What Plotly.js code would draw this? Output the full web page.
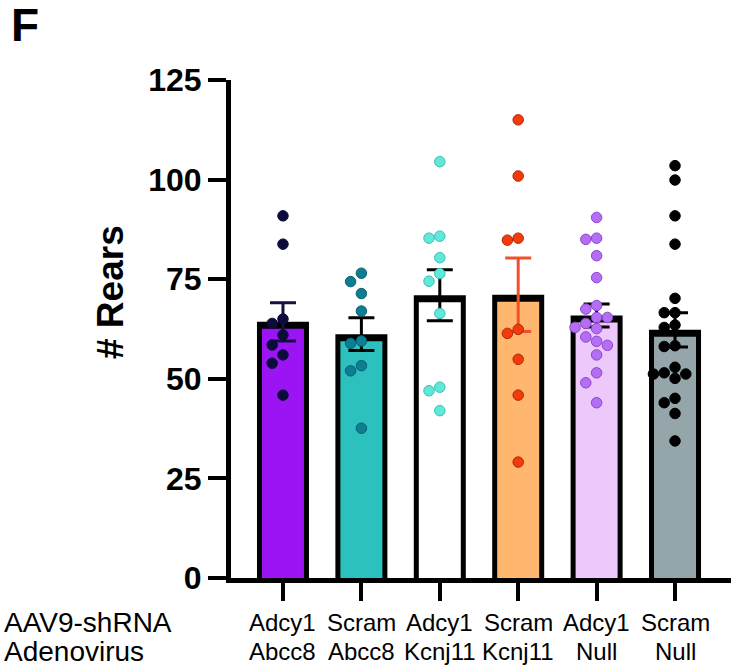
<!DOCTYPE html>
<html>
<head>
<meta charset="utf-8">
<script src="https://cdn.plot.ly/plotly-3.0.1.min.js"></script>
<style>html,body{margin:0;padding:0;background:#fff;}#chart{width:731px;height:666px;}</style>
</head>
<body>
<div id="chart"></div>
<script>
// ---- data ----
const categories = ['Adcy1<br>Abcc8', 'Scram<br>Abcc8', 'Adcy1<br>Kcnj11', 'Scram<br>Kcnj11', 'Adcy1<br>Null', 'Scram<br>Null'];
const adcy1Abcc8 = [90.9, 83.8, 65.0, 63.9, 61.0, 58.5, 56.0, 53.9, 45.9];
const scramAbcc8 = [76.5, 74.4, 71.4, 67.0, 59.5, 58.9, 53.3, 52.0, 37.6];
const adcy1Kcnj11 = [104.5, 85.8, 85.3, 80.4, 76.4, 74.5, 66.4, 47.9, 47.0, 42.0];
const scramKcnj11 = [115.0, 100.9, 85.3, 84.8, 62.4, 61.4, 54.9, 45.9, 29.1];
const adcy1Null = [90.5, 85.3, 85.0, 80.9, 75.4, 68.4, 67.5, 65.4, 65.4, 63.9, 62.9, 62.6, 60.5, 59.4, 58.4, 56.0, 51.5, 49.0, 44.0];
const scramNull = [103.5, 99.9, 90.9, 83.8, 70.2, 66.6, 66.6, 63.5, 62.9, 58.3, 58.1, 52.9, 51.5, 51.2, 51.2, 50.1, 45.1, 44.0, 41.3, 34.4];
const means = [64.3, 61.2, 71.0, 71.1, 65.9, 62.3];
const sems = [4.8, 4.1, 6.4, 9.2, 2.9, 4.3];
const yTicks = [0, 25, 50, 75, 100, 125];
const rowLabels = ['AAV9-shRNA', 'Adenovirus'];

// ---- styles ----
const groups = [adcy1Abcc8, scramAbcc8, adcy1Kcnj11, scramKcnj11, adcy1Null, scramNull];
const barFill = ['#9b14f4', '#2cc0bf', '#ffffff', '#ffb66f', '#ecc8fb', '#95a6ab'];
const dotFill = ['#0c0b3c', '#0e7e92', '#5fe9db', '#f23a0c', '#b46ef2', '#000000'];
const dotLine = ['#0c0b3c', '#0a5f70', '#3bbfb2', '#b52600', '#8a45d0', '#000000'];
const errColor = ['#16113f', '#000000', '#000000', '#f2502a', '#000000', '#000000'];

const W = 731, H = 666;
const M = {l: 231, r: 0, t: 80, b: 88};
const xRange = [-0.663, 5.714], yRange = [0, 125];
const pxPerX = (W - M.l - M.r) / (xRange[1] - xRange[0]);
const pxPerY = (H - M.t - M.b) / (yRange[1] - yRange[0]);
const barOuterPx = 52, sideBorderPx = 5, topBorderPx = 7;

// simple beeswarm placement (pixel space) -> data-unit offsets
function swarm(vals, step, diam) {
  const order = vals.map((v, i) => i).sort((a, b) => vals[b] - vals[a]);
  const placed = [];
  const off = new Array(vals.length).fill(0);
  for (const i of order) {
    const y = vals[i] * pxPerY;
    for (let k = 0; k < 40; k++) {
      const c = k === 0 ? 0 : (k % 2 ? -1 : 1) * Math.ceil(k / 2) * step;
      if (placed.every(p => Math.hypot(p.x - c, p.y - y) >= diam)) {
        off[i] = c; placed.push({x: c, y: y}); break;
      }
    }
  }
  return off.map(o => o / pxPerX);
}

const xs = categories.map((c, i) => i);
const traces = [
  {type: 'bar', x: xs, y: means, width: barOuterPx / pxPerX, marker: {color: '#000', line: {width: 0}}, hoverinfo: 'skip'},
  {type: 'bar', x: xs, y: means.map(m => m - topBorderPx / pxPerY), width: (barOuterPx - 2 * sideBorderPx) / pxPerX,
   marker: {color: barFill, line: {width: 0}}, hoverinfo: 'skip'}
];
groups.forEach((g, i) => {
  traces.push({
    type: 'scatter', mode: 'markers', x: [i], y: [means[i]],
    marker: {size: 1, opacity: 0},
    error_y: {type: 'data', array: [sems[i]], visible: true, color: errColor[i], thickness: 3, width: 13},
    hoverinfo: 'skip'
  });
});
groups.forEach((g, i) => {
  const offs = swarm(g, 10.8, 10.4);
  traces.push({
    type: 'scatter', mode: 'markers',
    x: g.map((v, j) => i + offs[j]), y: g,
    marker: {size: 10.5, color: dotFill[i], line: {color: dotLine[i], width: 1}},
    hoverinfo: 'skip', cliponaxis: false
  });
});

const fontFam = 'Arial, "Liberation Sans", Helvetica, sans-serif';
const px2x = px => (px - M.l) / (W - M.l - M.r);
const px2y = py => (H - M.b - py) / (H - M.t - M.b);
const lineY = [622, 651];

const annotations = [
  {text: 'F', xref: 'paper', yref: 'paper', x: px2x(25), y: px2y(25), xanchor: 'center', yanchor: 'middle',
   showarrow: false, font: {size: 46, family: fontFam, color: '#000', weight: 700}},
  {text: '# Rears', xref: 'paper', yref: 'paper', x: px2x(110), y: px2y(292), xanchor: 'center', yanchor: 'middle',
   textangle: -90, showarrow: false, font: {size: 37, family: fontFam, color: '#000', weight: 700}}
];
rowLabels.forEach((t, r) => annotations.push({
  text: t, xref: 'paper', yref: 'paper', x: px2x(2), y: px2y(lineY[r]), xanchor: 'left', yanchor: 'middle',
  showarrow: false, font: {size: 28, family: fontFam, color: '#000'}
}));
categories.forEach((c, i) => c.split('<br>').forEach((t, r) => annotations.push({
  text: t, xref: 'x', yref: 'paper', x: i, y: px2y(lineY[r]), xanchor: 'center', yanchor: 'middle',
  showarrow: false, font: {size: 24, family: fontFam, color: '#000'}
})));

const layout = {
  width: W, height: H, margin: M,
  showlegend: false, barmode: 'overlay',
  paper_bgcolor: '#fff', plot_bgcolor: '#fff',
  font: {family: fontFam, color: '#000'},
  xaxis: {
    range: xRange, tickmode: 'array', tickvals: xs, showticklabels: false,
    showline: true, linewidth: 5, linecolor: '#000', ticks: 'outside', ticklen: 18, tickwidth: 4, tickcolor: '#000',
    showgrid: false, zeroline: false, fixedrange: true
  },
  yaxis: {
    range: yRange, tickmode: 'array', tickvals: yTicks, ticktext: yTicks.map(String),
    showline: true, linewidth: 5, linecolor: '#000', ticks: 'outside', ticklen: 18, tickwidth: 4, tickcolor: '#000',
    tickfont: {size: 32, family: fontFam, color: '#000', weight: 700},
    showgrid: false, zeroline: false, fixedrange: true
  },
  annotations: annotations
};

Plotly.newPlot('chart', traces, layout, {displayModeBar: false, staticPlot: true});
</script>
</body>
</html>
